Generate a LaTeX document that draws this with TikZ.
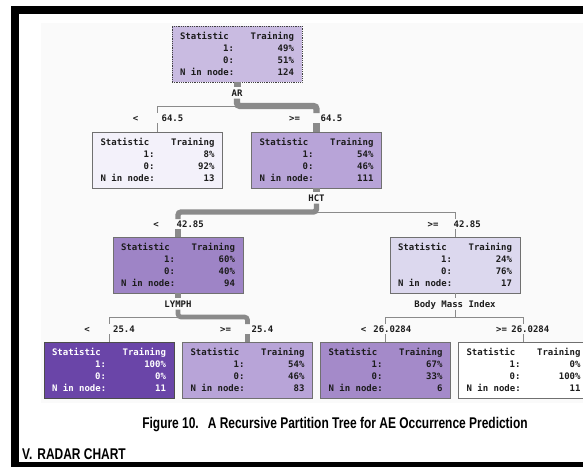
\documentclass[tikz,border=0pt]{standalone}
\usepackage{fontspec}
\newfontfamily\treefont{DejaVu Sans Mono}
\newfontfamily\capfont[FakeStretch=0.772]{Liberation Sans}

\definecolor{panel}{HTML}{FAFAFA}
\definecolor{branch}{HTML}{8A8A8A}
\definecolor{edgegray}{HTML}{707070}
\definecolor{textdark}{HTML}{1C1C1C}
\definecolor{p49}{HTML}{C9BBE1}
\definecolor{p08}{HTML}{F3F1FA}
\definecolor{p54}{HTML}{B8A4D8}
\definecolor{p60}{HTML}{9E84C6}
\definecolor{p24}{HTML}{DCD8EE}
\definecolor{p100}{HTML}{6A45A8}
\definecolor{p67}{HTML}{A48AC9}

% four rows of a node summary: header, share of 1, share of 0, count
\newcommand{\statrows}[3]{\parbox{114pt}{Statistic\hfill Training\\
\makebox[54pt][r]{1:}\hfill #1\\
\makebox[54pt][r]{0:}\hfill #2\\
N in node:\hfill #3}}

\tikzset{
  treetext/.style={font=\treefont\bfseries\fontsize{9}{12}\selectfont, text=textdark},
  statbox/.style={treetext, draw=edgegray, line width=0.8pt, minimum width=130pt,
    minimum height=56pt, inner sep=0pt},
  splitlab/.style={treetext, inner xsep=0pt, inner ysep=2.2pt, text height=6.5pt, text depth=0pt},
  oplab/.style={treetext, inner sep=0pt, text height=6.5pt, text depth=0pt},
  trunk/.style={draw=branch, rounded corners=3pt},
  twig/.style={draw=branch, line width=0.8pt},
  capstyle/.style={font=\capfont\bfseries\fontsize{15.5}{17}\selectfont, text=black, inner sep=0pt},
}

\begin{document}
\begin{tikzpicture}[x=1pt,y=-1pt]
\useasboundingbox (0,0) rectangle (583,467);
\clip (0,0) rectangle (583,467);
\fill[white] (0,0) rectangle (583,467);
\fill[panel] (41,23) rectangle (583,403);
% page frame
\fill[black] (11,6) rectangle (583,14);
\fill[black] (11,6) rectangle (19,467);
\fill[black] (11,462) rectangle (583,467);

% tree nodes
\node[statbox, fill=p49, densely dotted, draw=black!75] (root) at (237,54) {\statrows{49\%}{51\%}{124}};
\node[statbox, fill=p08] (n2a) at (157.5,160) {\statrows{8\%}{92\%}{13}};
\node[statbox, fill=p54] (n2b) at (316.5,160) {\statrows{54\%}{46\%}{111}};
\node[statbox, fill=p60] (n3a) at (178,265) {\statrows{60\%}{40\%}{94}};
\node[statbox, fill=p24] (n3b) at (455,265) {\statrows{24\%}{76\%}{17}};
\node[statbox, fill=p100, text=white, draw=black!70] (n4a) at (109,370) {\statrows{100\%}{0\%}{11}};
\node[statbox, fill=p54] (n4b) at (247.5,370) {\statrows{54\%}{46\%}{83}};
\node[statbox, fill=p67] (n4c) at (385.5,370) {\statrows{67\%}{33\%}{6}};
\node[statbox, fill=white] (n4d) at (523.5,370) {\statrows{0\%}{100\%}{11}};

% splitting variables
\node[splitlab] (sAR) at (237,93) {AR};
\node[splitlab] (sHCT) at (316.5,198) {HCT};
\node[splitlab] (sLY) at (178,304) {LYMPH};
\node[splitlab] (sBMI) at (455,304) {Body Mass Index};

% branch hubs and label gaps
\coordinate (h1) at (237,106);
\coordinate (h2) at (316.5,212);
\coordinate (h3a) at (178,317);
\coordinate (h3b) at (455,317);
\coordinate (b2a-top) at (157.5,113);  \coordinate (b2a-bot) at (157.5,123);
\coordinate (b2b-top) at (316.5,113);  \coordinate (b2b-bot) at (316.5,123);
\coordinate (b3a-top) at (178,219);    \coordinate (b3a-bot) at (178,229);
\coordinate (b3b-top) at (455,219);    \coordinate (b3b-bot) at (455,229);
\coordinate (b4a-top) at (109,324);    \coordinate (b4a-bot) at (109,334);
\coordinate (b4b-top) at (247.5,324);  \coordinate (b4b-bot) at (247.5,334);
\coordinate (b4c-top) at (385.5,324);  \coordinate (b4c-bot) at (385.5,334);
\coordinate (b4d-top) at (523.5,324);  \coordinate (b4d-bot) at (523.5,334);

% split conditions
\node[oplab] (o2a) at (135.5,118) {<};  \node[oplab, anchor=east] (v2a) at (183.5,118) {64.5};
\node[oplab] (o2b) at (294.5,118) {>=}; \node[oplab, anchor=east] (v2b) at (342.5,118) {64.5};
\node[oplab] (o3a) at (156,224) {<};    \node[oplab, anchor=east] (v3a) at (204,224) {42.85};
\node[oplab] (o3b) at (433,224) {>=};   \node[oplab, anchor=east] (v3b) at (481,224) {42.85};
\node[oplab] (o4a) at (87,329) {<};     \node[oplab, anchor=east] (v4a) at (135,329) {25.4};
\node[oplab] (o4b) at (225.5,329) {>=}; \node[oplab, anchor=east] (v4b) at (273.5,329) {25.4};
\node[oplab] (o4c) at (363.5,329) {<};  \node[oplab, anchor=east] (v4c) at (411.5,329) {26.0284};
\node[oplab] (o4d) at (501.5,329) {>=}; \node[oplab, anchor=east] (v4d) at (549.5,329) {26.0284};

% thin branches (small counts)
\draw[twig] (sAR.south) -- (h1) -| (b2a-top);
\draw[twig] (b2a-bot) -- (n2a.north);
\draw[twig] (sHCT.south) -- (h2) -| (b3b-top);
\draw[twig] (b3b-bot) -- (n3b.north);
\draw[twig] (n3b.south) -- (sBMI.north);
\draw[twig] (sBMI.south) -- (h3b) -| (b4c-top);
\draw[twig] (sBMI.south) -- (h3b) -| (b4d-top);
\draw[twig] (b4c-bot) -- (n4c.north);
\draw[twig] (b4d-bot) -- (n4d.north);
\draw[twig] (sLY.south) -- (h3a) -| (b4a-top);
\draw[twig] (b4a-bot) -- (n4a.north);

% thick branches (width follows the count)
\draw[trunk, line width=7pt] (root.south) -- (sAR.north);
\draw[trunk, line width=6.3pt] (sAR.south) -- (h1) -| (b2b-top);
\draw[trunk, line width=6.3pt] (b2b-bot) -- (n2b.north);
\draw[trunk, line width=6.3pt] (n2b.south) -- (sHCT.north);
\draw[trunk, line width=5.3pt] (sHCT.south) -- (h2) -| (b3a-top);
\draw[trunk, line width=5.3pt] (b3a-bot) -- (n3a.north);
\draw[trunk, line width=5.3pt] (n3a.south) -- (sLY.north);
\draw[trunk, line width=4.7pt] (sLY.south) -- (h3a) -| (b4b-top);
\draw[trunk, line width=4.7pt] (b4b-bot) -- (n4b.north);

% caption and section heading
\node[capstyle] (fig) at (335,425) {Figure 10.\hspace{9pt}A Recursive Partition Tree for AE Occurrence Prediction};
\node[capstyle, anchor=west] (sec) at (22,454) {V.\hspace{5pt}RADAR CHART};
\end{tikzpicture}
\end{document}
